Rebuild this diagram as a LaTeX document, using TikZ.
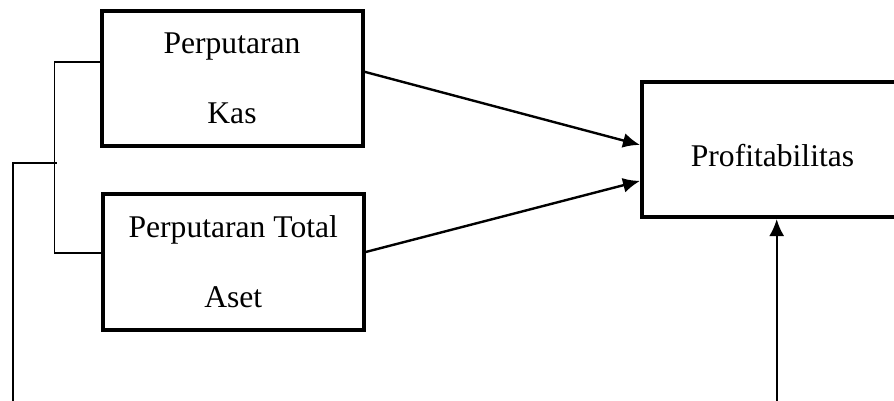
\documentclass[tikz,border=0pt]{standalone}
\usepackage{fontspec}
\setmainfont{Liberation Serif}
\usetikzlibrary{arrows.meta,calc}

\tikzset{
	kotak/.style={draw,line width=2pt,minimum width=130.5pt,minimum height=67.75pt,
		inner sep=0pt,align=center,font=\fontsize{15.8}{35}\selectfont},
	garis/.style={line width=0.8pt},
	panah/.style={line width=1.2pt,-{Latex[length=8.5pt,width=7.5pt]}}
}

\begin{document}
\begin{tikzpicture}[x=0.5pt,y=-0.5pt]
\useasboundingbox (0,0) rectangle (894,401);
%
\node[kotak] (kas) at (232,78.75) {Perputaran\\Kas};
\node[kotak] (aset) at (233.25,261.75) {Perputaran Total\\Aset};
\node[kotak,minimum height=67.5pt,text height=17.5pt,text depth=0pt] (profit) at (772.5,149.5) {Profitabilitas};
%
\coordinate (atas) at (54.5,62);
\coordinate (bawah) at (54.5,253);
\coordinate (tengah) at (56.7,162.7);
\coordinate (kiri) at (12.7,401);
\coordinate (dasar) at (776.7,401);
%
\draw[garis] (kas.west |- atas) -- (atas) -- (bawah) -- (aset.west |- bawah);
\draw[garis] (tengah) -- (kiri |- tengah) -- (kiri);
%
\draw[panah] ($(kas.north east)!0.45!(kas.south east)$) -- ($(profit.north west)!0.467!(profit.south west)$);
\draw[panah] ($(aset.north east)!0.43!(aset.south east)$) -- ($(profit.north west)!0.726!(profit.south west)$);
\draw[panah] (dasar) -- (profit.south -| dasar);
\end{tikzpicture}
\end{document}
